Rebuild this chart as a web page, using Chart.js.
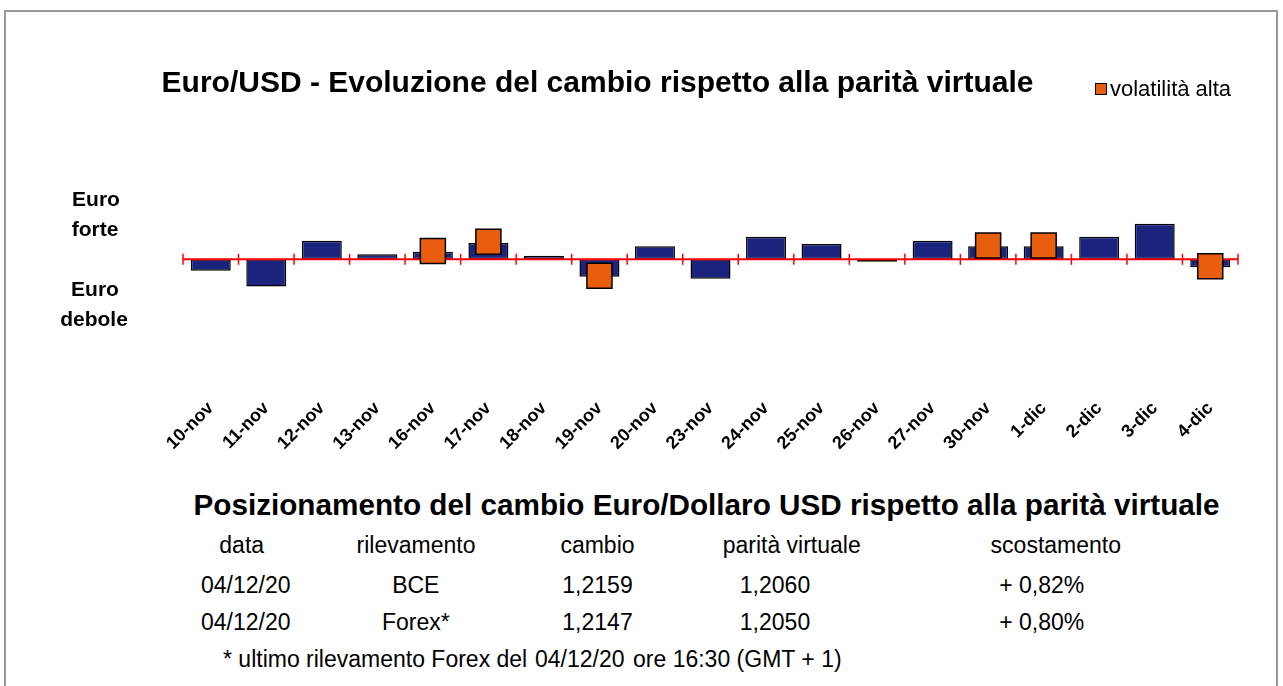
<!DOCTYPE html>
<html><head><meta charset="utf-8">
<script src="https://cdn.jsdelivr.net/npm/chart.js@4/dist/chart.umd.min.js"></script>
<style>
body{margin:0;width:1283px;height:686px;overflow:hidden;background:#fff;font-family:'Liberation Sans',Arial,sans-serif;position:relative}
#frame{position:absolute;left:4px;top:10px;width:1270px;height:720px;border:2px solid #9a9a9a;}
#wrap{position:absolute;left:0;top:0;width:1283px;height:470px}
.t{position:absolute;white-space:nowrap;color:#000;line-height:1}
.c{transform:translateX(-50%)}
.b{font-weight:bold}
.tb{font-size:23px}
</style></head>
<body>
<div id="frame"></div>
<div id="wrap"><canvas id="chart"></canvas></div>
<div class="t c b" style="font-size:30px;left:597.5px;top:66.6px">Euro/USD - Evoluzione del cambio rispetto alla parità virtuale</div>
<div style="position:absolute;left:1095px;top:83px;width:10px;height:10px;background:#E85E0E;border:1px solid #000"></div>
<div class="t" style="font-size:22px;left:1110px;top:78.4px">volatilità alta</div>
<div class="t c b" style="font-size:21px;left:96px;top:188.2px">Euro</div>
<div class="t c b" style="font-size:21px;left:95px;top:218.2px">forte</div>
<div class="t c b" style="font-size:21px;left:95px;top:278.2px">Euro</div>
<div class="t c b" style="font-size:21px;left:94px;top:308.2px">debole</div>
<div class="t c b" style="font-size:29.7px;left:706.5px;top:489.8px">Posizionamento del cambio Euro/Dollaro USD rispetto alla parità virtuale</div>
<div id="table"></div>
<script>
// ---- chart data ----
const categories = ['10-nov','11-nov','12-nov','13-nov','16-nov','17-nov','18-nov','19-nov','20-nov','23-nov','24-nov','25-nov','26-nov','27-nov','30-nov','1-dic','2-dic','3-dic','4-dic'];
const scostamento = [-1.15,-2.70,1.86,0.50,0.75,1.66,0.36,-1.74,1.30,-1.94,2.26,1.53,-0.24,1.86,1.30,1.30,2.26,3.56,-0.80];
const volatilitaAlta = [null,null,null,null,0.83,1.76,null,-1.64,null,null,null,null,null,null,1.38,1.38,null,null,-0.70];
// ---- table data ----
const tableHeaders = ['data','rilevamento','cambio','parità virtuale','scostamento'];
const rowBCE = ['04/12/20','BCE','1,2159','1,2060','+ 0,82%'];
const rowForex = ['04/12/20','Forex*','1,2147','1,2050','+ 0,80%'];
const footnote = ['* ultimo rilevamento Forex del','04/12/20','ore 16:30 (GMT + 1)'];

const tbl = document.getElementById('table');
function addText(txt, left, top, centered){
  const d = document.createElement('div');
  d.className = 't tb' + (centered ? ' c' : '');
  d.style.left = left + 'px'; d.style.top = top + 'px';
  d.textContent = txt; tbl.appendChild(d);
}
const headX = [241.7,416,597.5,791.7,1055.8];
const rowX = [245.8,415.8,597.5,775,1041.7];
tableHeaders.forEach((h,i)=>addText(h, headX[i], 533.5, true));
rowBCE.forEach((h,i)=>addText(h, rowX[i], 573.5, true));
rowForex.forEach((h,i)=>addText(h, rowX[i], 610.5, true));
const footX = [223,535,633];
footnote.forEach((h,i)=>addText(h, footX[i], 647.5, false));

const zeroLine = {
  id:'zeroLine',
  afterDatasetDraw(chart, args){
    if (args.meta.type !== 'bar') return;
    const ctx = chart.ctx, ca = chart.chartArea;
    const y = chart.scales.y.getPixelForValue(0);
    const n = categories.length, w = (ca.right - ca.left) / n;
    ctx.save();
    ctx.strokeStyle = '#FF0000';
    ctx.lineWidth = 2;
    ctx.beginPath(); ctx.moveTo(ca.left, y); ctx.lineTo(ca.right, y); ctx.stroke();
    ctx.lineWidth = 1.5;
    for (let i = 0; i <= n; i++){
      const x = ca.left + i * w;
      ctx.beginPath(); ctx.moveTo(x, y - 5.5); ctx.lineTo(x, y + 5.5); ctx.stroke();
    }
    ctx.restore();
  }
};

new Chart(document.getElementById('chart'), {
  type:'bar',
  data:{
    labels: categories,
    datasets:[
      {type:'bar', label:'scostamento', data: scostamento, backgroundColor:'#1A237E', borderColor:'#000', borderWidth:1.5, borderSkipped:false, barPercentage:0.72, categoryPercentage:1, order:2},
      {type:'line', label:'volatilità alta', data: volatilitaAlta, showLine:false, pointStyle:'rect', pointRadius:17.7, pointHoverRadius:17.7, pointBackgroundColor:'#E85E0E', pointBorderColor:'#000', pointBorderWidth:1.5, order:1}
    ]
  },
  options:{
    responsive:true, maintainAspectRatio:false, animation:false,
    events:[],
    layout:{padding:{top:140,left:183,right:45,bottom:13}},
    plugins:{legend:{display:false}, title:{display:false}, tooltip:{enabled:false}},
    scales:{
      x:{grid:{display:false, drawTicks:false}, border:{display:false},
         ticks:{maxRotation:45, minRotation:45, color:'#000', padding:3, font:{family:"'Liberation Sans', Arial, sans-serif", size:18, weight:'bold'}}},
      y:{display:false, min:-13.5, max:11.9}
    }
  },
  plugins:[zeroLine]
});
</script>
</body></html>
